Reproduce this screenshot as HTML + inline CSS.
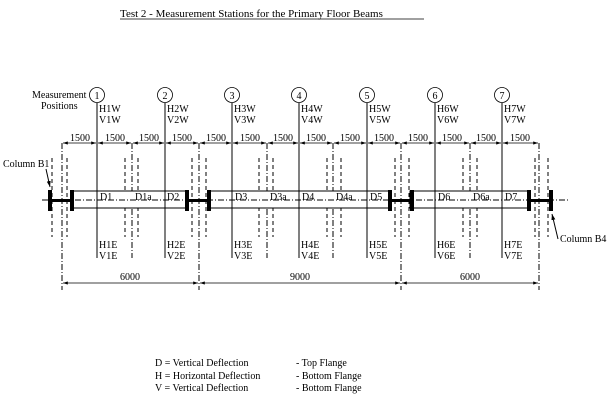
<!DOCTYPE html>
<html><head><meta charset="utf-8"><style>
html,body{margin:0;padding:0;background:#fff}
svg{display:block}
text{font-family:"Liberation Serif",serif;font-size:10px;fill:#000}
</style></head><body>
<svg width="607" height="412" viewBox="0 0 607 412" xmlns="http://www.w3.org/2000/svg">
<defs>
<marker id="a" markerWidth="6" markerHeight="4" refX="6" refY="2" orient="auto-start-reverse"><path d="M0,0 L6,2 L0,4 Z" fill="#000"/></marker>
</defs>
<text x="120" y="17" style="font-size:11px">Test 2 - Measurement Stations for the Primary Floor Beams</text>
<line x1="120" y1="19" x2="424" y2="19" stroke="#000" stroke-width="0.8"/>

<text x="32" y="98">Measurement</text>
<text x="41" y="109">Positions</text>

<g fill="none" stroke="#000" stroke-width="0.8">
<circle cx="97" cy="95" r="7.5"/><circle cx="165" cy="95" r="7.5"/><circle cx="232" cy="95" r="7.5"/><circle cx="299" cy="95" r="7.5"/><circle cx="367" cy="95" r="7.5"/><circle cx="435" cy="95" r="7.5"/><circle cx="502" cy="95" r="7.5"/>
</g>
<g text-anchor="middle">
<text x="97" y="99">1</text><text x="165" y="99">2</text><text x="232" y="99">3</text><text x="299" y="99">4</text><text x="367" y="99">5</text><text x="435" y="99">6</text><text x="502" y="99">7</text>
</g>

<g stroke="#000" stroke-width="1">
<line x1="97" y1="103" x2="97" y2="258"/><line x1="165" y1="103" x2="165" y2="258"/><line x1="232" y1="103" x2="232" y2="258"/><line x1="299" y1="103" x2="299" y2="258"/><line x1="367" y1="103" x2="367" y2="258"/><line x1="435" y1="103" x2="435" y2="258"/><line x1="502" y1="103" x2="502" y2="258"/>
</g>

<g stroke="#000" stroke-width="1" stroke-dasharray="6,2,1,2">
<line x1="62" y1="143" x2="62" y2="290"/><line x1="199" y1="143" x2="199" y2="290"/><line x1="401" y1="143" x2="401" y2="290"/><line x1="539" y1="143" x2="539" y2="290"/>
<line x1="132" y1="143" x2="132" y2="258"/><line x1="267" y1="143" x2="267" y2="258"/><line x1="333" y1="143" x2="333" y2="258"/><line x1="470" y1="143" x2="470" y2="258"/>
</g>

<g stroke="#000" stroke-width="1" stroke-dasharray="4,3">
<line x1="52" y1="158" x2="52" y2="237"/><line x1="67" y1="158" x2="67" y2="237"/>
<line x1="125" y1="158" x2="125" y2="237"/><line x1="138" y1="158" x2="138" y2="237"/>
<line x1="192" y1="158" x2="192" y2="237"/><line x1="206" y1="158" x2="206" y2="237"/>
<line x1="259" y1="158" x2="259" y2="237"/><line x1="273" y1="158" x2="273" y2="237"/>
<line x1="327" y1="158" x2="327" y2="237"/><line x1="341" y1="158" x2="341" y2="237"/>
<line x1="395" y1="158" x2="395" y2="237"/><line x1="409" y1="158" x2="409" y2="237"/>
<line x1="463" y1="158" x2="463" y2="237"/><line x1="477" y1="158" x2="477" y2="237"/>
<line x1="535" y1="158" x2="535" y2="237"/><line x1="548" y1="158" x2="548" y2="237"/>
</g>

<g fill="#fff" stroke="#000" stroke-width="1">
<rect x="72" y="191" width="115" height="17"/>
<rect x="208" y="191" width="182" height="17"/>
<rect x="410" y="191" width="119" height="17"/>
</g>
<g stroke="#000" stroke-width="1">
<line x1="97" y1="191" x2="97" y2="208"/><line x1="165" y1="191" x2="165" y2="208"/><line x1="232" y1="191" x2="232" y2="208"/><line x1="299" y1="191" x2="299" y2="208"/><line x1="367" y1="191" x2="367" y2="208"/><line x1="435" y1="191" x2="435" y2="208"/><line x1="502" y1="191" x2="502" y2="208"/>
</g>
<line x1="42" y1="200" x2="570" y2="200" stroke="#000" stroke-width="1" stroke-dasharray="6,2,1,2"/>
<g fill="#000">
<rect x="48" y="190" width="4" height="21"/><rect x="70" y="190" width="4" height="21"/><rect x="52" y="199" width="18" height="3"/>
<rect x="185" y="190" width="4" height="21"/><rect x="207" y="190" width="4" height="21"/><rect x="189" y="199" width="18" height="3"/>
<rect x="388" y="190" width="4" height="21"/><rect x="410" y="190" width="4" height="21"/><rect x="392" y="199" width="18" height="3"/>
<rect x="527" y="190" width="4" height="21"/><rect x="549" y="190" width="4" height="21"/><rect x="531" y="199" width="18" height="3"/>
</g>

<text x="100" y="200">D1</text><text x="135" y="200">D1a</text><text x="167" y="200">D2</text>
<text x="235" y="200">D3</text><text x="270" y="200">D3a</text><text x="302" y="200">D4</text><text x="336" y="200">D4a</text><text x="370" y="200">D5</text>
<text x="438" y="200">D6</text><text x="473" y="200">D6a</text><text x="505" y="200">D7</text>

<g>
<text x="99" y="112">H1W</text><text x="99" y="123">V1W</text><text x="99" y="248">H1E</text><text x="99" y="259">V1E</text>
<text x="167" y="112">H2W</text><text x="167" y="123">V2W</text><text x="167" y="248">H2E</text><text x="167" y="259">V2E</text>
<text x="234" y="112">H3W</text><text x="234" y="123">V3W</text><text x="234" y="248">H3E</text><text x="234" y="259">V3E</text>
<text x="301" y="112">H4W</text><text x="301" y="123">V4W</text><text x="301" y="248">H4E</text><text x="301" y="259">V4E</text>
<text x="369" y="112">H5W</text><text x="369" y="123">V5W</text><text x="369" y="248">H5E</text><text x="369" y="259">V5E</text>
<text x="437" y="112">H6W</text><text x="437" y="123">V6W</text><text x="437" y="248">H6E</text><text x="437" y="259">V6E</text>
<text x="504" y="112">H7W</text><text x="504" y="123">V7W</text><text x="504" y="248">H7E</text><text x="504" y="259">V7E</text>
</g>

<g stroke="#000" stroke-width="0.8" marker-start="url(#a)" marker-end="url(#a)">
<line x1="63" y1="143" x2="96" y2="143"/><line x1="98" y1="143" x2="131" y2="143"/><line x1="133" y1="143" x2="164" y2="143"/><line x1="166" y1="143" x2="198" y2="143"/>
<line x1="200" y1="143" x2="231" y2="143"/><line x1="233" y1="143" x2="266" y2="143"/><line x1="268" y1="143" x2="298" y2="143"/><line x1="300" y1="143" x2="332" y2="143"/>
<line x1="334" y1="143" x2="366" y2="143"/><line x1="368" y1="143" x2="400" y2="143"/><line x1="402" y1="143" x2="434" y2="143"/><line x1="436" y1="143" x2="469" y2="143"/>
<line x1="471" y1="143" x2="501" y2="143"/><line x1="503" y1="143" x2="538" y2="143"/>
<line x1="63" y1="283" x2="198" y2="283"/><line x1="200" y1="283" x2="400" y2="283"/><line x1="402" y1="283" x2="538" y2="283"/>
</g>
<g text-anchor="middle">
<text x="80" y="141">1500</text><text x="115" y="141">1500</text><text x="149" y="141">1500</text><text x="182" y="141">1500</text>
<text x="216" y="141">1500</text><text x="250" y="141">1500</text><text x="283" y="141">1500</text><text x="316" y="141">1500</text>
<text x="350" y="141">1500</text><text x="384" y="141">1500</text><text x="418" y="141">1500</text><text x="452" y="141">1500</text>
<text x="486" y="141">1500</text><text x="520" y="141">1500</text>
<text x="130" y="280">6000</text><text x="300" y="280">9000</text><text x="470" y="280">6000</text>
</g>

<text x="3" y="167">Column B1</text>
<line x1="46" y1="169" x2="50" y2="187" stroke="#000" stroke-width="1" marker-end="url(#a)"/>
<text x="560" y="242">Column B4</text>
<line x1="558" y1="239" x2="552" y2="214" stroke="#000" stroke-width="1" marker-end="url(#a)"/>

<text x="155" y="366">D = Vertical Deflection</text><text x="296" y="366">- Top Flange</text>
<text x="155" y="379">H = Horizontal Deflection</text><text x="296" y="379">- Bottom Flange</text>
<text x="155" y="391">V = Vertical Deflection</text><text x="296" y="391">- Bottom Flange</text>
</svg>
</body></html>
